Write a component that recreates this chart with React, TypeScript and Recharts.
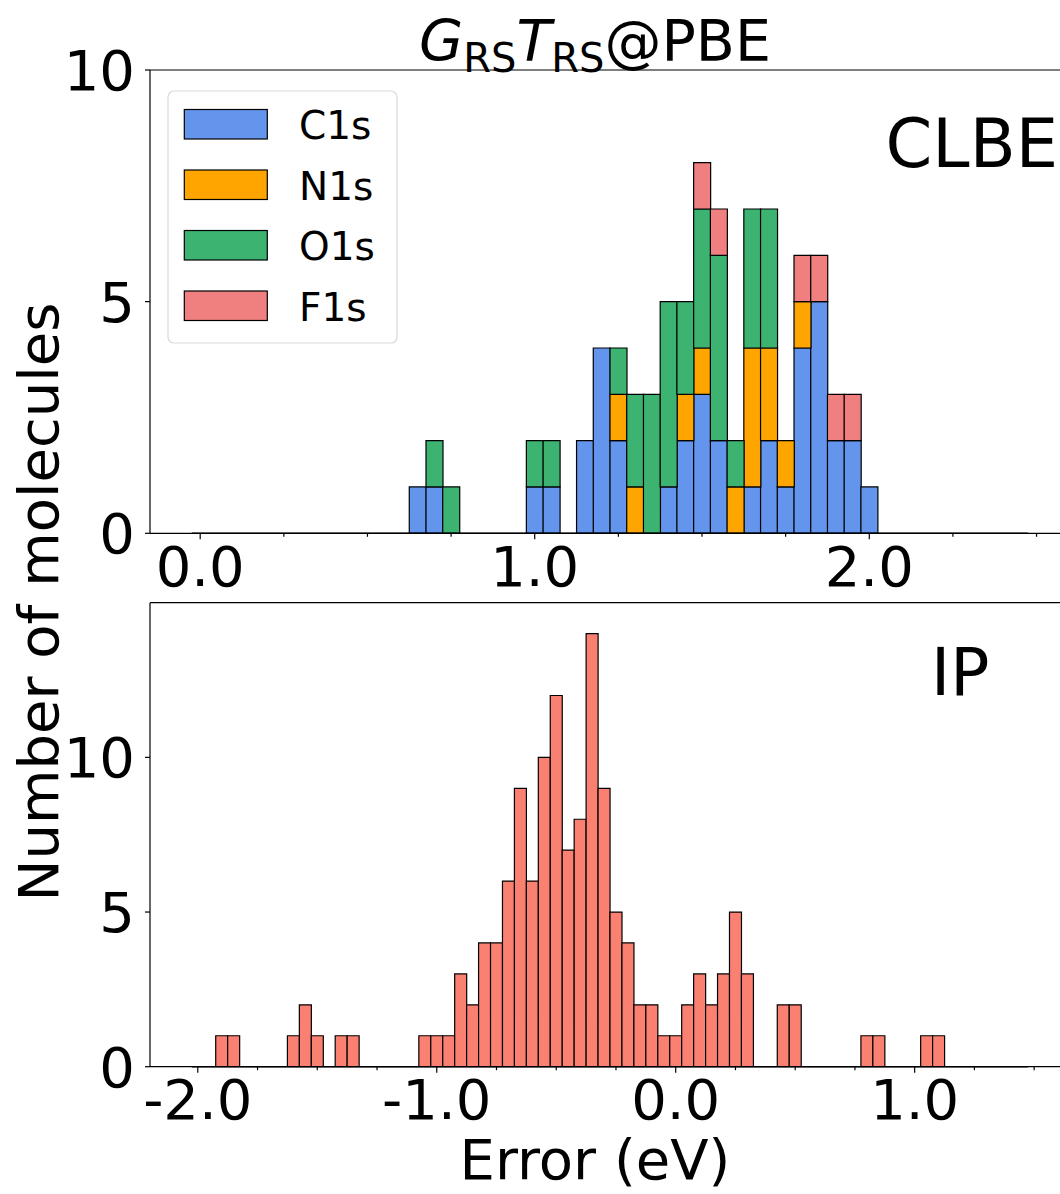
import React from 'react';
import { BarChart, Bar, XAxis, YAxis, ReferenceLine } from 'recharts';

// CLBE histogram (stacked by core level), bin centres in eV
const clbeBins = [0.65, 0.7, 0.75, 0.8, 0.85, 0.9, 0.95, 1.0, 1.05, 1.1, 1.15, 1.2, 1.25, 1.3, 1.35, 1.4, 1.45, 1.5, 1.55, 1.6, 1.65, 1.7, 1.75, 1.8, 1.85, 1.9, 1.95, 2.0];
const c1s = [1, 1, 0, 0, 0, 0, 0, 1, 1, 0, 2, 4, 2, 0, 0, 1, 2, 3, 2, 0, 1, 2, 1, 4, 5, 2, 2, 1];
const n1s = [0, 0, 0, 0, 0, 0, 0, 0, 0, 0, 0, 0, 1, 1, 0, 0, 1, 1, 0, 1, 3, 2, 1, 1, 0, 0, 0, 0];
const o1s = [0, 1, 1, 0, 0, 0, 0, 1, 1, 0, 0, 0, 1, 2, 3, 4, 2, 3, 4, 1, 3, 3, 0, 0, 0, 0, 0, 0];
const f1s = [0, 0, 0, 0, 0, 0, 0, 0, 0, 0, 0, 0, 0, 0, 0, 0, 0, 1, 1, 0, 0, 0, 0, 1, 1, 1, 1, 0];
const clbeRange = [-0.025, 2.475];
const clbeTicks = [0, 0.25, 0.5, 0.75, 1, 1.25, 1.5, 1.75, 2, 2.25, 2.5];
const clbeMajor = [0, 1, 2];

// IP histogram, bin centres in eV
const ipBins = [-1.9, -1.85, -1.6, -1.55, -1.5, -1.4, -1.35, -1.05, -1.0, -0.95, -0.9, -0.85, -0.8, -0.75, -0.7, -0.65, -0.6, -0.55, -0.5, -0.45, -0.4, -0.35, -0.3, -0.25, -0.2, -0.15, -0.1, -0.05, 0.0, 0.05, 0.1, 0.15, 0.2, 0.25, 0.3, 0.45, 0.5, 0.8, 0.85, 1.05, 1.1];
const ipCounts = [1, 1, 1, 2, 1, 1, 1, 1, 1, 1, 3, 2, 4, 4, 6, 9, 6, 10, 12, 7, 8, 14, 9, 5, 4, 2, 2, 1, 1, 2, 3, 2, 3, 5, 3, 2, 2, 1, 1, 1, 1];
const ipRange = [-2.025, 1.475];
const ipTicks = [-2, -1.75, -1.5, -1.25, -1, -0.75, -0.5, -0.25, 0, 0.25, 0.5, 0.75, 1, 1.25, 1.5];
const ipMajor = [-2, -1, 0, 1];

const yTicks = [0, 5, 10];

const legendItems = [
  { key: 'c1s', label: 'C1s', color: '#6495ED' },
  { key: 'n1s', label: 'N1s', color: '#FFA500' },
  { key: 'o1s', label: 'O1s', color: '#3CB371' },
  { key: 'f1s', label: 'F1s', color: '#F08080' },
];

const clbeData = clbeBins.map((x, i) => ({ x, c1s: c1s[i], n1s: n1s[i], o1s: o1s[i], f1s: f1s[i] }));
const ipData = ipBins.map((x, i) => ({ x, count: ipCounts[i] }));

const TICK_MARGIN = 13;

function fmt(v: number) {
  return (Math.abs(v) < 1e-9 ? 0 : v).toFixed(1);
}

function XTick(props: any) {
  const { x, y, payload, majors } = props;
  const v = payload.value;
  const major = majors.some((m: number) => Math.abs(m - v) < 1e-6);
  const y0 = y - TICK_MARGIN;
  return (
    <g>
      <line x1={x} x2={x} y1={y0} y2={y0 + (major ? 6 : 3.5)} stroke="#000" strokeWidth={1.2} />
      {major && (
        <text x={x} y={y} dy="0.71em" textAnchor="middle" fontSize={56} fill="#000">
          {fmt(v)}
        </text>
      )}
    </g>
  );
}

const yAxisProps = {
  type: 'number' as const,
  ticks: yTicks,
  interval: 0 as const,
  width: 150,
  tickSize: 5,
  tickMargin: 10,
  tick: { fontSize: 56, fill: '#000' },
  axisLine: { stroke: '#000', strokeWidth: 1.2 },
  tickLine: { stroke: '#000', strokeWidth: 1.2 },
  allowDataOverflow: true,
};

export default function App() {
  return (
    <div
      style={{
        position: 'absolute',
        left: 0,
        top: 0,
        width: 1060,
        height: 1194,
        overflow: 'hidden',
        background: '#fff',
        fontFamily: '"DejaVu Sans", sans-serif',
      }}
    >
      <div style={{ position: 'absolute', left: 0, top: 0 }}>
        <BarChart
          width={1080}
          height={600}
          data={clbeData}
          margin={{ top: 70, right: 10, bottom: 6.7, left: 0 }}
          barCategoryGap={0}
          barGap={0}
        >
          <XAxis
            dataKey="x"
            type="number"
            domain={[-0.15, 2.6]}
            allowDataOverflow
            ticks={clbeTicks}
            interval={0}
            height={60}
            tickSize={0}
            tickMargin={TICK_MARGIN}
            tickLine={false}
            axisLine={{ stroke: '#000', strokeWidth: 1.2 }}
            tick={(p: any) => <XTick {...p} majors={clbeMajor} />}
          />
          <YAxis {...yAxisProps} domain={[0, 10]} />
          {legendItems.map((it) => (
            <Bar
              key={it.key}
              dataKey={it.key}
              stackId="clbe"
              fill={it.color}
              stroke="#000"
              strokeWidth={1.2}
              isAnimationActive={false}
            />
          ))}
          <ReferenceLine
            segment={[{ x: clbeRange[0], y: 0 }, { x: clbeRange[1], y: 0 }]}
            stroke="#000"
            strokeWidth={1.5}
          />
          <ReferenceLine y={10} stroke="#000" strokeWidth={1.2} />
        </BarChart>
      </div>

      <div style={{ position: 'absolute', left: 0, top: 560 }}>
        <BarChart
          width={1080}
          height={600}
          data={ipData}
          margin={{ top: 42.7, right: 10, bottom: 23.3, left: 0 }}
          barCategoryGap={0}
          barGap={0}
        >
          <XAxis
            dataKey="x"
            type="number"
            domain={[-2.2, 1.65]}
            allowDataOverflow
            ticks={ipTicks}
            interval={0}
            height={70}
            tickSize={0}
            tickMargin={TICK_MARGIN}
            tickLine={false}
            axisLine={{ stroke: '#000', strokeWidth: 1.2 }}
            tick={(p: any) => <XTick {...p} majors={ipMajor} />}
          />
          <YAxis {...yAxisProps} domain={[0, 15]} />
          <Bar dataKey="count" fill="#FA8072" stroke="#000" strokeWidth={1.2} isAnimationActive={false} />
          <ReferenceLine
            segment={[{ x: ipRange[0], y: 0 }, { x: ipRange[1], y: 0 }]}
            stroke="#000"
            strokeWidth={1.5}
          />
          <ReferenceLine y={15} stroke="#000" strokeWidth={1.2} />
        </BarChart>
      </div>

      <svg
        width={1060}
        height={1194}
        style={{ position: 'absolute', left: 0, top: 0, pointerEvents: 'none' }}
      >
        <text x={595} y={61} textAnchor="middle" fontSize={57} fill="#000">
          <tspan fontStyle="italic">G</tspan>
          <tspan fontSize={40} dy={11}>RS</tspan>
          <tspan fontStyle="italic" dy={-11}>T</tspan>
          <tspan fontSize={40} dy={11}>RS</tspan>
          <tspan dy={-11}>@PBE</tspan>
        </text>

        <text x={1058} y={167} textAnchor="end" fontSize={67} fill="#000">CLBE</text>
        <text x={931} y={695} fontSize={65} fill="#000">IP</text>

        <text
          x={58}
          y={602}
          textAnchor="middle"
          fontSize={56}
          fill="#000"
          transform="rotate(-90 58 602)"
        >
          Number of molecules
        </text>
        <text x={595} y={1179} textAnchor="middle" fontSize={56} fill="#000">
          Error (eV)
        </text>

        <rect x={168} y={91} width={229} height={252} rx={6} fill="#fff" fillOpacity={0.8} stroke="#d9d9d9" strokeWidth={1.2} />
        {legendItems.map((it, i) => {
          const top = 109.5 + i * 60.5;
          return (
            <g key={it.key}>
              <rect x={184.3} y={top} width={83} height={29.5} fill={it.color} stroke="#000" strokeWidth={1.2} />
              <text x={299} y={top + 29.5} fontSize={39} fill="#000">
                {it.label}
              </text>
            </g>
          );
        })}
      </svg>
    </div>
  );
}
